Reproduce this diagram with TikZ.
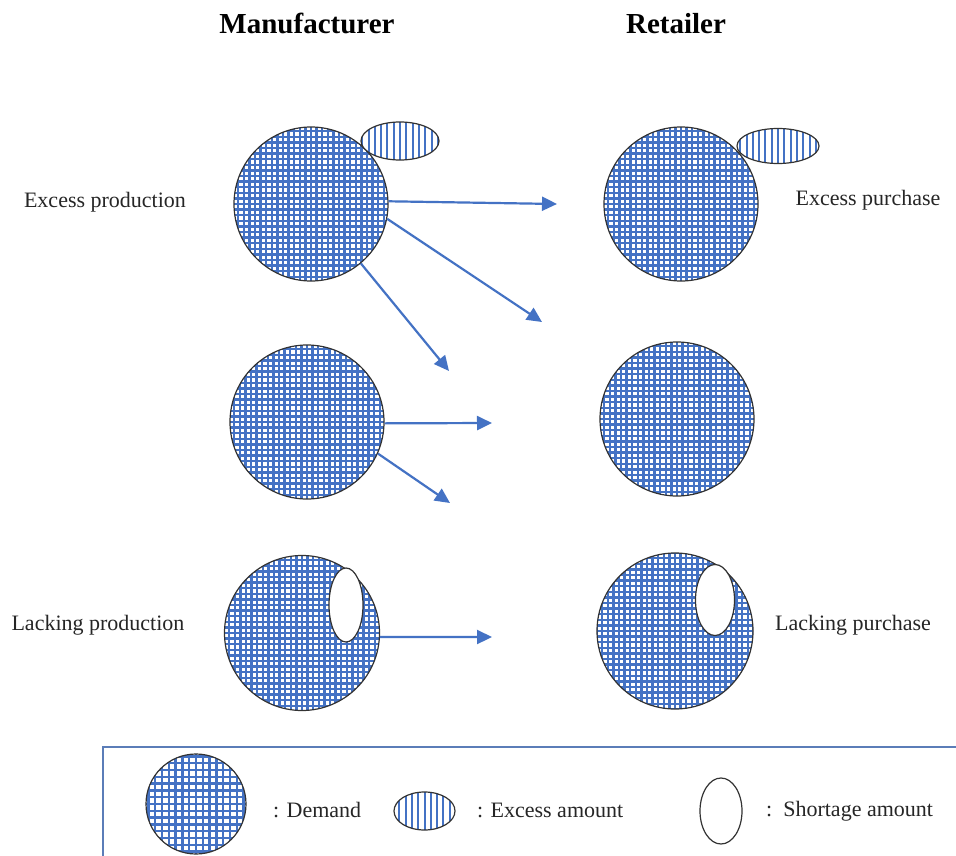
\documentclass[tikz,border=0pt]{standalone}
\usepackage{fontspec}
\setmainfont{Liberation Serif}
\usetikzlibrary{arrows.meta,shapes.geometric}
\definecolor{pblue}{HTML}{4472C4}
\definecolor{boxblue}{HTML}{5B7DB8}
\definecolor{edge}{HTML}{333333}
\tikzset{
  gridfill/.style={path picture={
      \foreach \i in {-20,...,20}{
        \draw[pblue, line width=2.3pt] ([xshift=\i*#1]path picture bounding box.center) ++(0,-120pt) -- ++(0,240pt);
        \draw[pblue, line width=2.3pt] ([yshift=\i*#1]path picture bounding box.center) ++(-120pt,0) -- ++(240pt,0);
      }}},
  vfill/.style={path picture={
      \foreach \i in {-12,...,12}{
        \draw[pblue, line width=2pt] ([xshift=\i*#1]path picture bounding box.center) ++(0,-60pt) -- ++(0,120pt);
      }}},
  demand/.style={circle, draw=edge, line width=1.2pt, fill=white, minimum size=#1, inner sep=0pt},
  excess/.style={ellipse, draw=edge, line width=1.2pt, fill=white, inner sep=0pt, vfill=6.3pt},
  shortage/.style={ellipse, draw=edge, line width=1.2pt, fill=white, inner sep=0pt},
  arr/.style={draw=pblue, line width=2.2pt, -{Triangle[length=15pt,width=14pt]}},
  lbl/.style={font=\fontsize{22}{26}\selectfont, text=black!85, inner sep=0pt},
  ttl/.style={font=\fontsize{29}{32}\selectfont\bfseries, inner sep=0pt},
}
\begin{document}
\begin{tikzpicture}[x=1pt,y=-1pt]
\useasboundingbox (0,0) rectangle (956,856);
\fill[white] (0,0) rectangle (956,856);

% titles
\node[ttl] (tm) at (307,23) {Manufacturer};
\node[ttl] (tr) at (676,24) {Retailer};

% circles
\node[demand=154pt, gridfill=5.6pt] (m1) at (311,204) {};
\node[demand=154pt, gridfill=5.6pt] (r1) at (681,204) {};
\node[demand=154pt, gridfill=5.6pt] (m2) at (307,422) {};
\node[demand=154pt, gridfill=5.6pt] (r2) at (677,419) {};
\node[demand=155pt, gridfill=5.6pt] (m3) at (302,633) {};
\node[demand=156pt, gridfill=5.6pt] (r3) at (675,631) {};

% excess ellipses
\node[excess, minimum width=78pt, minimum height=38pt] (x1) at (400,141) {};
\node[excess, minimum width=82pt, minimum height=35pt] (x2) at (778,146) {};

% shortage ellipses
\node[shortage, minimum width=34pt, minimum height=74pt] (s1) at (346,605) {};
\node[shortage, minimum width=39pt, minimum height=71pt] (s2) at (715,600) {};

% labels
\node[lbl] (lep) at (105,202) {Excess production};
\node[lbl] (lepu) at (868,200) {Excess purchase};
\node[lbl] (llp) at (98,625) {Lacking production};
\node[lbl] (llpu) at (853,625) {Lacking purchase};

% arrow ends
\coordinate (e1) at (557,204);
\coordinate (e2) at (542,322);
\coordinate (e3) at (449,371);
\coordinate (e4) at (492,423);
\coordinate (e5) at (450,503);
\coordinate (e6) at (492,637);

\draw[arr] (m1.2) -- (e1);
\draw[arr] (m1.-11) -- (e2);
\draw[arr] (m1.-50) -- (e3);
\draw[arr] (m2.-1) -- (e4);
\draw[arr] (m2.-24) -- (e5);
\draw[arr] (m3.-3) -- (e6);

% legend box
\draw[boxblue, line width=1.6pt] (103,870) -- (103,747) -- (970,747);

\node[demand=100pt, gridfill=6.8pt] (ld) at (196,804) {};
\node[lbl, anchor=west] (ldt) at (273,810) {: Demand};
\node[excess, minimum width=61pt, minimum height=38pt] (lx) at (424.5,811) {};
\node[lbl, anchor=west] (lxt) at (477,810) {: Excess amount};
\node[shortage, minimum width=42pt, minimum height=66pt] (ls) at (721,811) {};
\node[lbl, anchor=west] (lst) at (766,811) {:\ \ Shortage amount};
\end{tikzpicture}
\end{document}
